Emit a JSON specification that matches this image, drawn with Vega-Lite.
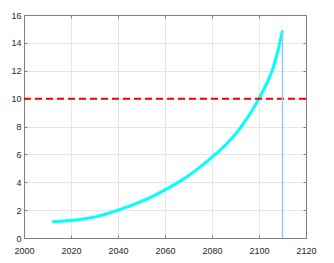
{
  "$schema": "https://vega.github.io/schema/vega-lite/v6.json",
  "width": 282,
  "height": 223,
  "padding": {"left": 24, "top": 15, "right": 28, "bottom": 25},
  "autosize": {"type": "none"},
  "background": "white",
  "config": {
    "view": {"stroke": "#808080", "strokeWidth": 1},
    "axis": {
      "labelFont": "Liberation Sans",
      "labelFontSize": 9,
      "labelColor": "#262626",
      "domainColor": "#808080",
      "tickColor": "#808080",
      "gridColor": "#E6E6E6",
      "tickSize": -3,
      "labelFlush": false,
      "labelOverlap": false,
      "title": null
    }
  },
  "datasets": {
    "curve": [
      {"year": 2012, "value": 1.17},
      {"year": 2016, "value": 1.2},
      {"year": 2020, "value": 1.25},
      {"year": 2025, "value": 1.36},
      {"year": 2030, "value": 1.5},
      {"year": 2035, "value": 1.72},
      {"year": 2040, "value": 2.0},
      {"year": 2045, "value": 2.29},
      {"year": 2050, "value": 2.63},
      {"year": 2055, "value": 3.01},
      {"year": 2060, "value": 3.45},
      {"year": 2065, "value": 3.93},
      {"year": 2070, "value": 4.47},
      {"year": 2075, "value": 5.1},
      {"year": 2080, "value": 5.8},
      {"year": 2085, "value": 6.55},
      {"year": 2090, "value": 7.45},
      {"year": 2095, "value": 8.6},
      {"year": 2100, "value": 10.0},
      {"year": 2102, "value": 10.65},
      {"year": 2104, "value": 11.35},
      {"year": 2106, "value": 12.2},
      {"year": 2108, "value": 13.4},
      {"year": 2110, "value": 14.9}
    ],
    "threshold": [{"value": 10}],
    "marker": [{"year": 2110, "y0": 0, "y1": 14.9}]
  },
  "layer": [
    {
      "data": {"name": "curve"},
      "mark": {"type": "line", "color": "#00FFFF", "strokeWidth": 3, "interpolate": "monotone", "clip": true},
      "encoding": {
        "x": {"field": "year", "type": "quantitative", "scale": {"domain": [2000, 2120], "nice": false, "zero": false},
              "axis": {"values": [2000, 2020, 2040, 2060, 2080, 2100, 2120], "grid": true, "labelPadding": 11, "format": "d"}},
        "y": {"field": "value", "type": "quantitative", "scale": {"domain": [0, 16], "nice": false},
              "axis": {"values": [0, 2, 4, 6, 8, 10, 12, 14, 16], "grid": true, "labelPadding": 6}}
      }
    },
    {
      "data": {"name": "threshold"},
      "mark": {"type": "rule", "color": "#FF0000", "strokeWidth": 2, "strokeDash": [7, 4]},
      "encoding": {
        "y": {"field": "value", "type": "quantitative", "axis": null}
      }
    },
    {
      "data": {"name": "marker"},
      "mark": {"type": "rule", "color": "#96C8EB", "strokeWidth": 1.5},
      "encoding": {
        "x": {"field": "year", "type": "quantitative",
              "axis": {"orient": "top", "values": [2000, 2020, 2040, 2060, 2080, 2100, 2120], "labels": false, "grid": false}},
        "y": {"field": "y0", "type": "quantitative",
              "axis": {"orient": "right", "values": [0, 2, 4, 6, 8, 10, 12, 14, 16], "labels": false, "grid": false}},
        "y2": {"field": "y1"}
      }
    }
  ],
  "resolve": {"axis": {"x": "independent", "y": "independent"}}
}
